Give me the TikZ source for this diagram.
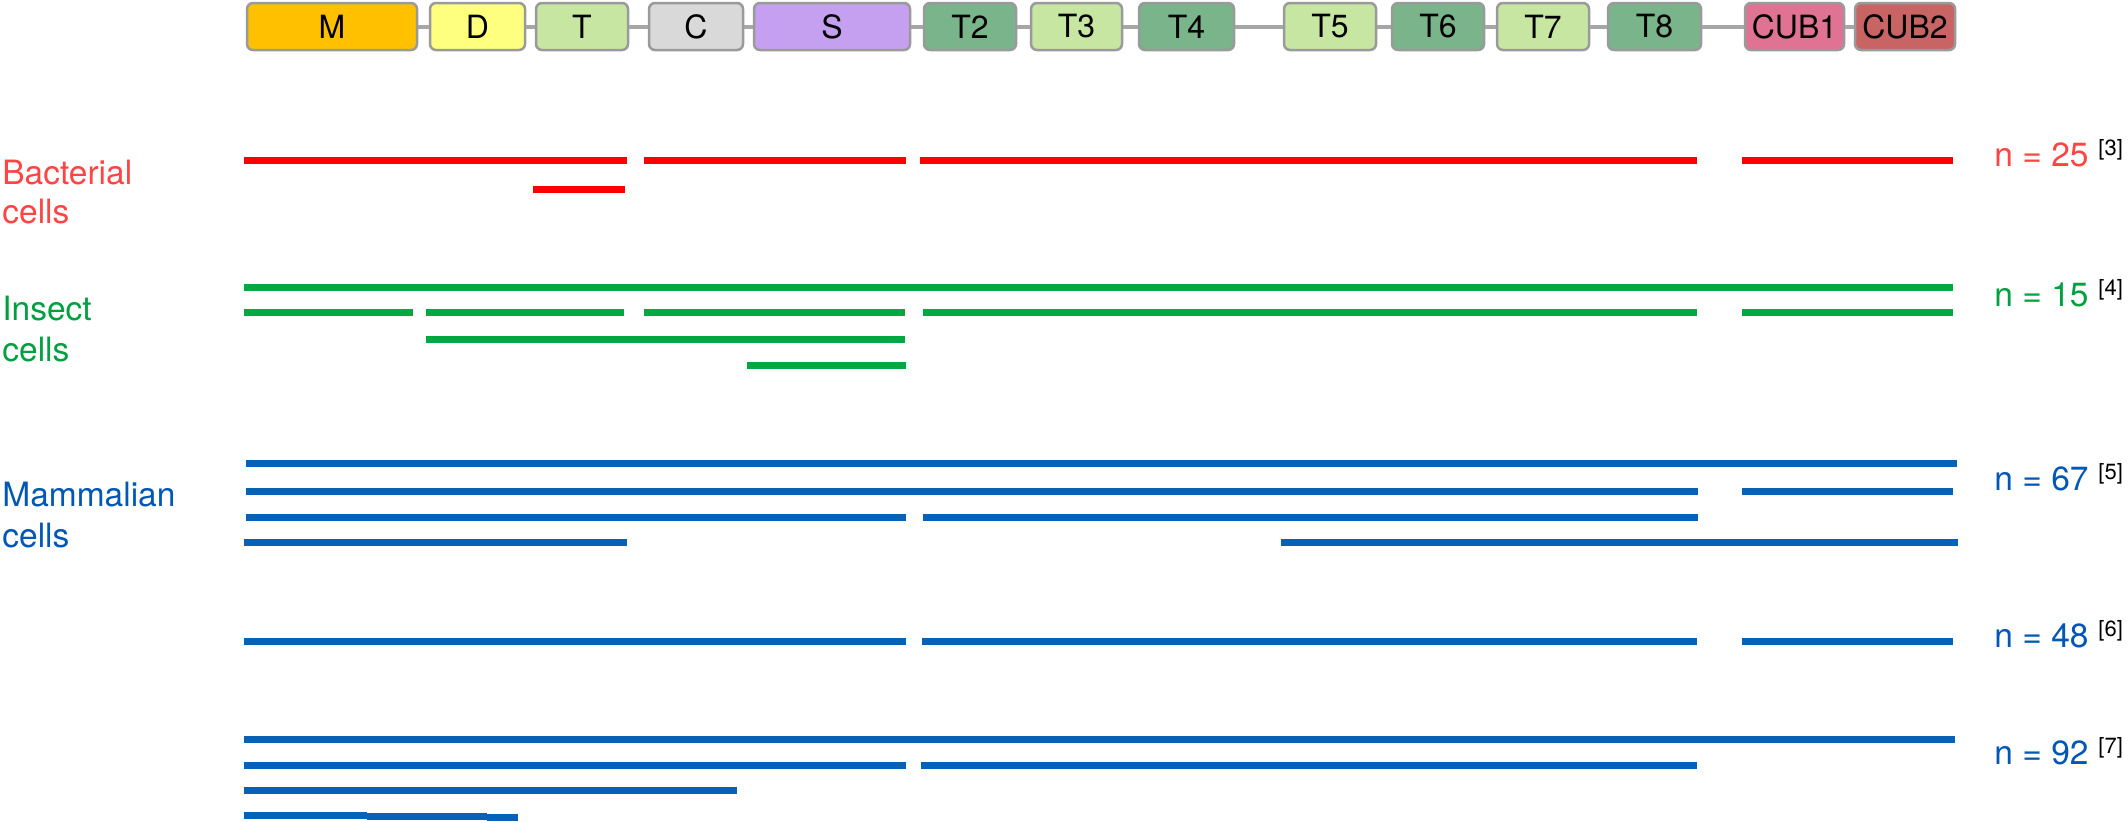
\documentclass[tikz,border=0pt]{standalone}
\usepackage{fontspec}
\setmainfont{TeX Gyre Heros}
\definecolor{cM}{HTML}{FFC000}
\definecolor{cD}{HTML}{FFFF7F}
\definecolor{cLG}{HTML}{C6E6A2}
\definecolor{cC}{HTML}{D9D9D9}
\definecolor{cS}{HTML}{C6A0F0}
\definecolor{cDG}{HTML}{79B48A}
\definecolor{cCUBa}{HTML}{E07394}
\definecolor{cCUBb}{HTML}{C86464}
\definecolor{boxgray}{HTML}{9A9A9A}
\definecolor{linkgray}{HTML}{A6A6A6}
\definecolor{redline}{HTML}{FF0000}
\definecolor{greenline}{HTML}{00A841}
\definecolor{blueline}{HTML}{0562B8}
\definecolor{redtxt}{HTML}{FF4444}
\definecolor{greentxt}{HTML}{00A040}
\definecolor{bluetxt}{HTML}{0057B5}
\newcommand\segline[4]{\draw[#1, line width=3.5pt] (#3,#2) -- (#4,#2);}
\begin{document}
\begin{tikzpicture}[x=0.5pt,y=-0.5pt,
  domainbox/.style={draw=boxgray, line width=1.25pt, rounded corners=3pt,
    minimum height=23.5pt, inner sep=0pt, text=black,
    font=\fontsize{16}{16}\selectfont},
  link/.style={draw=linkgray, line width=2pt},
  grouplab/.style={anchor=base west, inner sep=0pt, font=\fontsize{16.75}{19}\selectfont},
  nlab/.style={anchor=base west, inner sep=0pt, font=\fontsize{16.75}{19}\selectfont},
  reflab/.style={anchor=base west, inner sep=0pt, text=black, font=\fontsize{11}{12}\selectfont}]
\useasboundingbox (0,0) rectangle (2128,821);
% domain boxes
\node[domainbox, fill=cM,  minimum width=85pt]   (M)    at (332,26.5)    {M};
\node[domainbox, fill=cD,  minimum width=47.5pt] (D)    at (477.5,26.5)  {D};
\node[domainbox, fill=cLG, minimum width=46pt]   (T)    at (582,26.5)    {T};
\node[domainbox, fill=cC,  minimum width=47pt]   (C)    at (696,26.5)    {C};
\node[domainbox, fill=cS,  minimum width=78pt]   (S)    at (832,26.5)    {S};
\node[domainbox, fill=cDG, minimum width=46pt]   (T2)   at (970,26.5)    {T2};
\node[domainbox, fill=cLG, minimum width=45.5pt] (T3)   at (1076.5,26.5) {T3};
\node[domainbox, fill=cDG, minimum width=47.5pt] (T4)   at (1186.5,26.5) {T4};
\node[domainbox, fill=cLG, minimum width=46pt]   (T5)   at (1330,26.5)   {T5};
\node[domainbox, fill=cDG, minimum width=46pt]   (T6)   at (1438,26.5)   {T6};
\node[domainbox, fill=cLG, minimum width=46pt]   (T7)   at (1543,26.5)   {T7};
\node[domainbox, fill=cDG, minimum width=46.5pt] (T8)   at (1654.5,26.5) {T8};
\node[domainbox, fill=cCUBa, minimum width=49.5pt] (CUB1) at (1794.5,26.5) {CUB1};
\node[domainbox, fill=cCUBb, minimum width=50pt]   (CUB2) at (1905,26.5)   {CUB2};
\foreach \a/\b in {M/D,D/T,T/C,C/S,S/T2,T2/T3,T3/T4,T4/T5,T5/T6,T6/T7,T7/T8,T8/CUB1,CUB1/CUB2}
  \draw[link] (\a.east) -- (\b.west);
% group labels
\node[grouplab, text=redtxt]   (bac1) at (2,184)   {Bacterial};
\node[grouplab, text=redtxt]   (bac2) at (2,223)   {cells};
\node[grouplab, text=greentxt] (ins1) at (2,320)   {Insect};
\node[grouplab, text=greentxt] (ins2) at (2,361.5) {cells};
\node[grouplab, text=bluetxt]  (mam1) at (2,506.5) {Mammalian};
\node[grouplab, text=bluetxt]  (mam2) at (2,547)   {cells};
% n labels
\node[nlab, text=redtxt]   (n25) at (1994,166) {n = 25};
\node[reflab]              (r3)  at (2098,155.5) {[3]};
\node[nlab, text=greentxt] (n15) at (1994,306) {n = 15};
\node[reflab]              (r4)  at (2098,295.5) {[4]};
\node[nlab, text=bluetxt]  (n67) at (1994,490) {n = 67};
\node[reflab]              (r5)  at (2098,479.5) {[5]};
\node[nlab, text=bluetxt]  (n48) at (1994,647) {n = 48};
\node[reflab]              (r6)  at (2098,636.5) {[6]};
\node[nlab, text=bluetxt]  (n92) at (1994,764) {n = 92};
\node[reflab]              (r7)  at (2098,753.5) {[7]};
% bacterial
\segline{redline}{160.5}{244}{627}
\segline{redline}{160.5}{644}{906}
\segline{redline}{160.5}{920}{1697}
\segline{redline}{160.5}{1742}{1953}
\segline{redline}{189}{533}{625}
% insect
\segline{greenline}{287}{244}{1953}
\segline{greenline}{312.5}{244}{413}
\segline{greenline}{312.5}{426}{624}
\segline{greenline}{312.5}{644}{905}
\segline{greenline}{312.5}{923}{1697}
\segline{greenline}{312.5}{1742}{1953}
\segline{greenline}{339}{426}{905}
\segline{greenline}{365}{747}{906}
% mammalian n=67
\segline{blueline}{463}{246}{1957}
\segline{blueline}{491}{246}{1698}
\segline{blueline}{491}{1742}{1953}
\segline{blueline}{517}{246}{906}
\segline{blueline}{517}{923}{1698}
\segline{blueline}{542}{244}{627}
\segline{blueline}{542}{1281}{1958}
% n=48
\segline{blueline}{641}{244}{906}
\segline{blueline}{641}{922}{1697}
\segline{blueline}{641}{1742}{1953}
% n=92
\segline{blueline}{739.5}{244}{1955}
\segline{blueline}{765.5}{244}{906}
\segline{blueline}{765.5}{921}{1697}
\segline{blueline}{790}{244}{737}
\segline{blueline}{815.5}{244}{367}
\segline{blueline}{816.5}{367}{487}
\segline{blueline}{817.5}{487}{518}
\end{tikzpicture}
\end{document}
